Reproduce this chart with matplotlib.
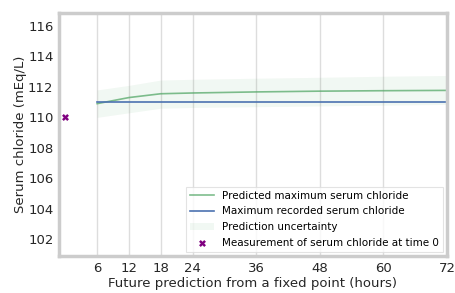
import matplotlib
matplotlib.use("Agg")
import matplotlib.pyplot as plt
import numpy as np

hours = [6, 12, 18, 24, 36, 48, 60, 72]
predicted = [110.9, 111.3, 111.55, 111.6, 111.67, 111.72, 111.75, 111.77]
upper = [111.8, 112.1, 112.45, 112.5, 112.57, 112.63, 112.7, 112.75]
lower = [110.0, 110.3, 110.6, 110.65, 110.7, 110.75, 110.8, 110.85]
recorded = [111.03, 111.03, 111.03, 111.03, 111.03, 111.03, 111.03, 111.03]
t0_hour = [0]
t0_value = [110.05]
xticks = [6, 12, 18, 24, 36, 48, 60, 72]
yticks = [102, 104, 106, 108, 110, 112, 114, 116]

plt.rcParams['font.family'] = ['DejaVu Sans']
fig = plt.figure(figsize=(4.56, 2.93), dpi=100)
ax = fig.add_axes([59/456, 1-256/293, (447-59)/456, (256-13)/293])

ax.fill_between(hours, lower, upper, color='#55a868', alpha=0.08, linewidth=0,
                label='Prediction uncertainty')
ax.plot(hours, predicted, color='#55a868', alpha=0.75, lw=1.2,
        label='Predicted maximum serum chloride')
ax.plot(hours, recorded, color='#4c72b0', lw=1.2,
        label='Maximum recorded serum chloride')
ax.scatter(t0_hour, t0_value, marker='X', color='purple', s=25, linewidths=0,
           label='Measurement of serum chloride at time 0', zorder=5)

ax.set_xlim(-1.2, 72)
ax.set_ylim(100.9, 116.85)
ax.set_xticks(xticks)
ax.set_yticks(yticks)
ax.tick_params(axis='both', labelsize=9.5, colors='#262626', length=0, pad=4)
ax.grid(axis='x', color='#dddddd', lw=1)
ax.set_axisbelow(True)
for s in ax.spines.values():
    s.set_color('#cccccc')
    s.set_linewidth(2.5)

ax.set_xlabel('Future prediction from a fixed point (hours)', fontsize=9.5, color='#262626', labelpad=2)
ax.set_ylabel('Serum chloride (mEq/L)', fontsize=9.5, color='#262626', labelpad=1)

h, l = ax.get_legend_handles_labels()
order = [1, 2, 0, 3]
leg = ax.legend([h[i] for i in order], [l[i] for i in order], loc='lower right',
                fontsize=7.45, frameon=True, fancybox=False, borderaxespad=0.4,
                handlelength=2.3, labelspacing=0.55, borderpad=0.4)
leg.get_frame().set_edgecolor('#dddddd')
leg.get_frame().set_linewidth(0.8)

fig.savefig('out.png', dpi=100)
